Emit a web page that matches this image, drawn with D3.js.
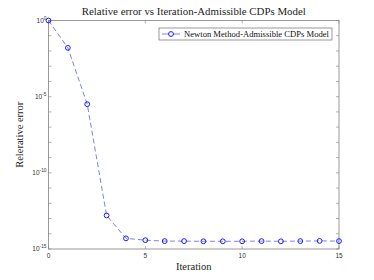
<!DOCTYPE html>
<html>
<head>
<meta charset="utf-8">
<script src="https://cdn.jsdelivr.net/npm/d3@7"></script>
<style>
  body { margin: 0; background: #fff; }
  svg { display: block; }
</style>
</head>
<body>
<svg id="chart"></svg>
<script>
// data
const iterations = [0, 1, 2, 3, 4, 5, 6, 7, 8, 9, 10, 11, 12, 13, 14, 15];
const relError = [1, 1.6e-2, 3.2e-6, 1.6e-13, 5e-15, 3.8e-15, 3.3e-15, 3.3e-15, 3.2e-15, 3.2e-15,
                  3.2e-15, 3.3e-15, 3.2e-15, 3.3e-15, 3.4e-15, 3.3e-15];
const xTicks = [0, 5, 10, 15];
const yMajor = [0, -5, -10, -15];
const seriesName = "Newton Method-Admissible CDPs Model";

const W = 374, H = 280;
const margin = {top: 20.5, right: 35, bottom: 31, left: 48.5},
    width = W - margin.left - margin.right,
    height = H - margin.top - margin.bottom;

const svg = d3.select("#chart").attr("width", W).attr("height", H);
const g = svg.append("g")
    .attr("transform", "translate(" + margin.left + "," + margin.top + ")");

const x = d3.scaleLinear().domain([0, 15]).range([0, width]);
const y = d3.scaleLog().domain([1e-15, 1]).range([height, 0]);

const axisColor = "#7f7f7f";
const tickFont = "Liberation Sans, Arial, sans-serif";
const serif = "Liberation Serif, Times New Roman, serif";

// decade ticks (inside, both sides)
const decades = d3.range(0, 16).map(k => Math.pow(10, -k));
decades.forEach(v => {
  [[0, 3], [width, width - 3]].forEach(([a, b]) => {
    g.append("line").attr("x1", a).attr("x2", b)
      .attr("y1", y(v)).attr("y2", y(v))
      .attr("stroke", axisColor).attr("stroke-width", 0.6);
  });
});
xTicks.forEach(v => {
  [[height, height - 3], [0, 3]].forEach(([a, b]) => {
    g.append("line").attr("x1", x(v)).attr("x2", x(v))
      .attr("y1", a).attr("y2", b)
      .attr("stroke", axisColor).attr("stroke-width", 0.6);
  });
});

// box
g.append("rect").attr("width", width).attr("height", height)
  .attr("fill", "none").attr("stroke", axisColor).attr("stroke-width", 0.8);

// x tick labels
g.selectAll(".xt").data(xTicks).enter().append("text")
  .attr("x", d => x(d)).attr("y", height + 9)
  .attr("text-anchor", "middle")
  .attr("font-family", tickFont).attr("font-size", 6.5).attr("fill", "#333")
  .text(d => d);

// y tick labels 10^k
yMajor.forEach(k => {
  const t = g.append("text")
    .attr("x", -2).attr("y", y(Math.pow(10, k)) + 2)
    .attr("text-anchor", "end")
    .attr("font-family", tickFont).attr("font-size", 6.5).attr("fill", "#333");
  t.append("tspan").text("10");
  t.append("tspan").attr("dy", -3).attr("font-size", 4.8).text(k);
});

// line
const line = d3.line()
  .x((d, i) => x(iterations[i]))
  .y(d => y(d));
g.append("path").datum(relError)
  .attr("d", line)
  .attr("fill", "none").attr("stroke", "#6f6ff5").attr("stroke-width", 0.9)
  .attr("stroke-dasharray", "5,3");

g.selectAll(".pt").data(relError).enter().append("circle")
  .attr("cx", (d, i) => x(iterations[i])).attr("cy", d => y(d))
  .attr("r", 2.4).attr("fill", "none").attr("stroke", "#1a1aff").attr("stroke-width", 1);

// legend
const lg = svg.append("g").attr("transform", "translate(159,28)");
lg.append("rect").attr("width", 173).attr("height", 12)
  .attr("fill", "#fff").attr("stroke", "#555").attr("stroke-width", 0.6);
lg.append("line").attr("x1", 3).attr("x2", 21).attr("y1", 6).attr("y2", 6)
  .attr("stroke", "#6f6ff5").attr("stroke-width", 0.9);
lg.append("circle").attr("cx", 12).attr("cy", 6).attr("r", 2.4)
  .attr("fill", "#fff").attr("stroke", "#1a1aff").attr("stroke-width", 1);
lg.append("text").attr("x", 25).attr("y", 8.9)
  .attr("font-family", serif).attr("font-size", 8.5).attr("fill", "#111")
  .attr("textLength", 145).attr("lengthAdjust", "spacingAndGlyphs")
  .text(seriesName);

// title and axis labels
svg.append("text").attr("x", margin.left + width / 2).attr("y", 15)
  .attr("text-anchor", "middle").attr("font-family", serif).attr("font-size", 10.5)
  .attr("fill", "#222").attr("textLength", 224).attr("lengthAdjust", "spacingAndGlyphs")
  .text("Relative error vs Iteration-Admissible CDPs Model");
svg.append("text").attr("x", margin.left + width / 2).attr("y", 270)
  .attr("text-anchor", "middle").attr("font-family", serif).attr("font-size", 10.5)
  .attr("fill", "#222").text("Iteration");
svg.append("text")
  .attr("transform", "translate(23," + (margin.top + height / 2) + ") rotate(-90)")
  .attr("text-anchor", "middle").attr("font-family", serif).attr("font-size", 10.5)
  .attr("fill", "#222").text("Relerative error");
</script>
</body>
</html>
